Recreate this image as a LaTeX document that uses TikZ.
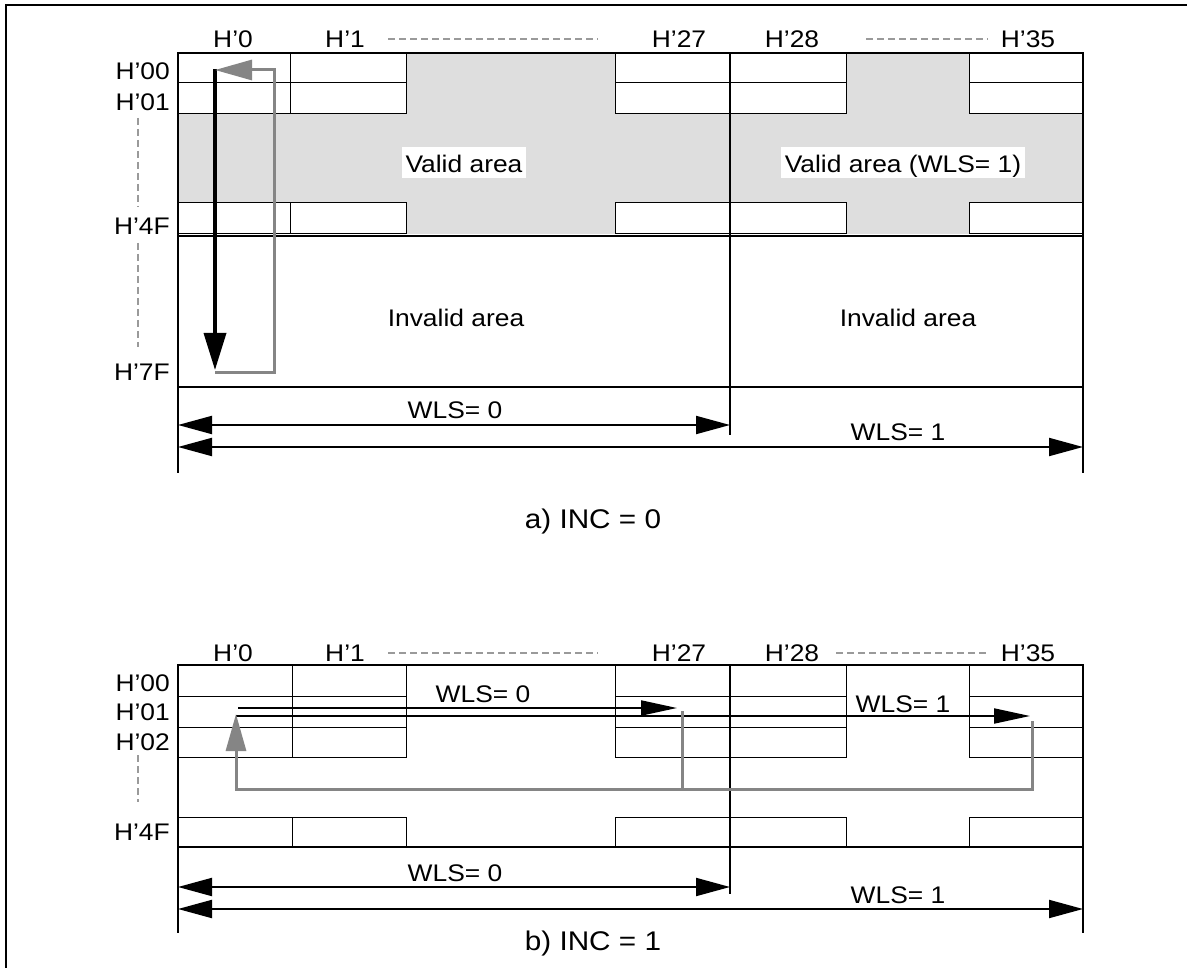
\documentclass[tikz,border=0pt]{standalone}
\usepackage{fontspec}
\setmainfont{Liberation Sans}[FakeStretch=1.1]
\usetikzlibrary{arrows.meta}
\definecolor{shadegray}{HTML}{DEDEDE}
\definecolor{arrgray}{HTML}{858585}
\definecolor{dashgray}{HTML}{9A9A9A}
\tikzset{
  cell/.style={draw=black, line width=1pt, fill=white},
  frameline/.style={line width=2pt, line cap=rect},
  lbl/.style={font=\fontsize{24}{26}\selectfont, inner sep=0pt, anchor=base},
  rowlbl/.style={lbl, anchor=base east},
  captxt/.style={font=\fontsize{27}{30}\selectfont, inner sep=0pt, anchor=base},
  whitelbl/.style={lbl, fill=white, inner sep=4pt, text height=22pt, text depth=1pt},
  dimarrow/.style={line width=2pt, {Triangle[length=34pt,width=18pt]}-{Triangle[length=34pt,width=18pt]}},
  onearrow/.style={line width=2pt, -{Triangle[length=36pt,width=15pt]}},
  grayarrow/.style={draw=arrgray, line width=3pt, -{Triangle[length=37pt,width=20pt]}},
  blackarrow/.style={line width=3.5pt, -{Triangle[length=37pt,width=22pt]}},
  graypath/.style={draw=arrgray, line width=3pt},
  hdash/.style={draw=dashgray, line width=1.2pt, dash pattern=on 7pt off 4pt},
}
\begin{document}
\begin{tikzpicture}[x=1pt,y=-1pt]
\useasboundingbox (0,0) rectangle (1187,968);
% outer page frame (top and left)
\draw[line width=1.5pt] (6,968) -- (6,5) -- (1187,5);

% ================= a) INC = 0 =================
\fill[shadegray] (178,53) rectangle (1083,234);
\foreach \xa/\xb in {178/290,290/406,615/730,730/846,969/1083}{
  \foreach \ya/\yb in {53/83,83/114,203/234}{
    \draw[cell] (\xa,\ya) rectangle (\xb,\yb);
  }
}
\draw[frameline] (178,472) -- (178,53) -- (1083,53) -- (1083,472);
\draw[frameline] (178,236) -- (1083,236);
\draw[frameline] (178,387) -- (1083,387);
\draw[frameline] (730,53) -- (730,434);

\node[whitelbl] (va0) at (464,173) {Valid area};
\node[whitelbl] (va1) at (903,173) {Valid area (WLS= 1)};
\node[lbl] (ia0) at (456,327) {Invalid area};
\node[lbl] (ia1) at (908,327) {Invalid area};

% column headers
\node[lbl] (ta0) at (233,48) {H’0};
\node[lbl] (ta1) at (345,48) {H’1};
\node[lbl] (ta27) at (679,48) {H’27};
\node[lbl] (ta28) at (792,48) {H’28};
\node[lbl] (ta35) at (1028,48) {H’35};
\draw[hdash] (388,39) -- (598,39);
\draw[hdash] (866,39) -- (988,39);

% row labels
\node[rowlbl] (ra00) at (170,80) {H’00};
\node[rowlbl] (ra01) at (170,111) {H’01};
\node[rowlbl] (ra4F) at (170,235) {H’4F};
\node[rowlbl] (ra7F) at (170,381) {H’7F};
\draw[hdash] (138,118) -- (138,207);
\draw[hdash] (138,243) -- (138,347);

% scan arrows
\coordinate (bs) at (215,69);
\coordinate (be) at (215,370);
\draw[blackarrow] (bs) -- (be);
\coordinate (gs) at (215,373);
\coordinate (ge) at (215,70);
\draw[grayarrow] (gs) -- (274,373) -- (274,70) -- (ge);

% dimension arrows
\coordinate (dl0) at (178,425);
\coordinate (dr0) at (730,425);
\coordinate (dl1) at (178,447);
\coordinate (dr1) at (1083,447);
\draw[dimarrow] (dl0) -- (dr0);
\draw[dimarrow] (dl1) -- (dr1);
\node[lbl] (wa0) at (455,418) {WLS= 0};
\node[lbl] (wa1) at (898,440) {WLS= 1};

\node[captxt] (capa) at (593,528) {a) INC = 0};

% ================= b) INC = 1 =================
\foreach \xa/\xb in {178/292,292/406,615/730,730/846,969/1083}{
  \foreach \ya/\yb in {665/696,696/727,727/757,817/847}{
    \draw[cell] (\xa,\ya) rectangle (\xb,\yb);
  }
}
\draw[frameline] (178,932) -- (178,665) -- (1083,665) -- (1083,932);
\draw[frameline] (178,847) -- (1083,847);
\draw[frameline] (730,665) -- (730,893);

% column headers
\node[lbl] (tb0) at (233,661) {H’0};
\node[lbl] (tb1) at (345,661) {H’1};
\node[lbl] (tb27) at (679,661) {H’27};
\node[lbl] (tb28) at (792,661) {H’28};
\node[lbl] (tb35) at (1028,661) {H’35};
\draw[hdash] (388,653) -- (598,653);
\draw[hdash] (836,653) -- (988,653);

% row labels
\node[rowlbl] (rb00) at (170,691) {H’00};
\node[rowlbl] (rb01) at (170,720) {H’01};
\node[rowlbl] (rb02) at (170,750) {H’02};
\node[rowlbl] (rb4F) at (170,840) {H’4F};
\draw[hdash] (138,755) -- (138,802);

% scan arrows
\coordinate (s0) at (238,708);
\coordinate (e0) at (677,708);
\coordinate (s1) at (236,716);
\coordinate (e1) at (1030,716);
\draw[onearrow] (s0) -- (e0);
\draw[onearrow] (s1) -- (e1);
\node[lbl] (wb0i) at (483,702) {WLS= 0};
\node[lbl] (wb1i) at (903,712) {WLS= 1};

\coordinate (g1) at (682,711);
\coordinate (g2) at (1032,721);
\coordinate (gt) at (236,714);
\draw[graypath] (g1) -- (682,789);
\draw[grayarrow] (g2) -- (1032,789) -- (236,789) -- (gt);

% dimension arrows
\coordinate (el0) at (178,887);
\coordinate (er0) at (730,887);
\coordinate (el1) at (178,909);
\coordinate (er1) at (1083,909);
\draw[dimarrow] (el0) -- (er0);
\draw[dimarrow] (el1) -- (er1);
\node[lbl] (wb0) at (455,881) {WLS= 0};
\node[lbl] (wb1) at (898,903) {WLS= 1};

\node[captxt] (capb) at (593,950) {b) INC = 1};
\end{tikzpicture}
\end{document}
